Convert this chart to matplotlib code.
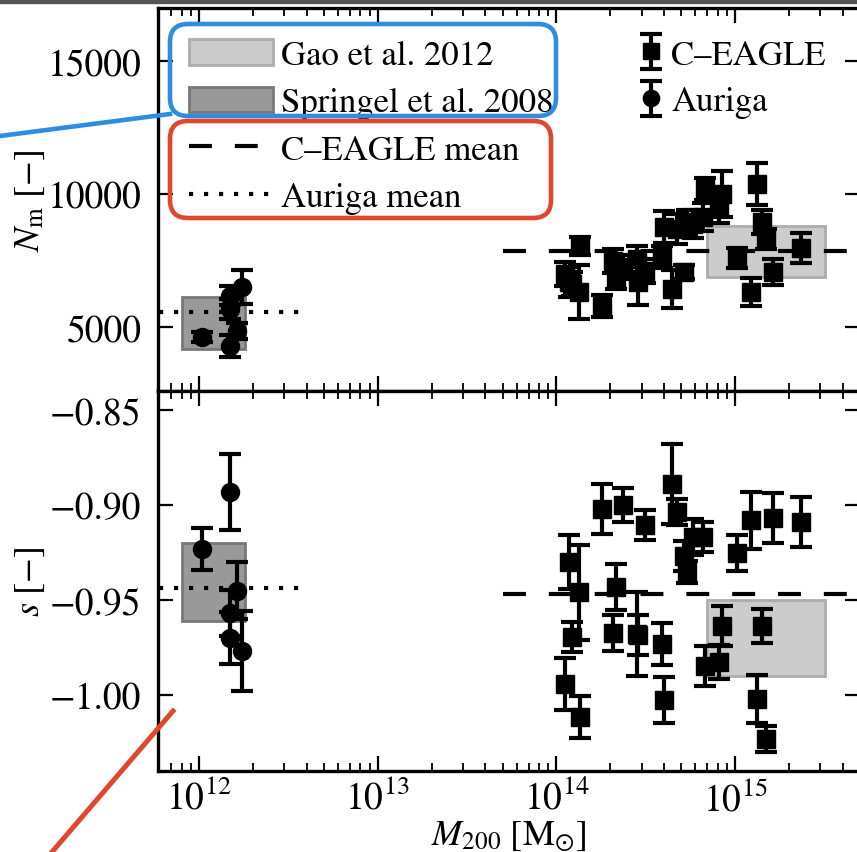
import numpy as np
import matplotlib
matplotlib.use("Agg")
import matplotlib.pyplot as plt
from matplotlib.patches import Rectangle, Patch, FancyBboxPatch
from matplotlib.lines import Line2D
from matplotlib.ticker import FixedLocator, FuncFormatter, NullFormatter, LogLocator

plt.rcParams['font.family'] = 'STIXGeneral'
plt.rcParams['mathtext.fontset'] = 'stix'
plt.rcParams['font.size'] = 26

# C-EAGLE clusters: halo mass, number of members, inner slope
ceagle_mass = [1.12e14, 1.18e14, 1.23e14, 1.34e14, 1.36e14, 1.80e14, 2.08e14, 2.16e14,
               2.37e14, 2.83e14, 2.85e14, 3.14e14, 3.91e14, 4.01e14, 4.45e14, 4.74e14,
               5.20e14, 5.40e14, 5.83e14, 6.64e14, 6.81e14, 8.16e14, 8.48e14, 1.02e15,
               1.23e15, 1.33e15, 1.42e15, 1.48e15, 1.64e15, 2.35e15]
ceagle_nm = [6998, 6698, 6622, 6322, 8051, 5795, 7487, 6810,
             7262, 7562, 6698, 7111, 7638, 8766, 6434, 8690,
             7074, 8954, 8878, 9142, 10194, 9518, 10006, 7600,
             6322, 10382, 8954, 8314, 7074, 7976]
ceagle_nm_err = [450, 560, 450, 1015, 340, 410, 450, 375,
                 450, 490, 865, 450, 410, 600, 715, 560,
                 265, 450, 530, 530, 415, 600, 865, 375,
                 530, 790, 450, 375, 490, 565]
ceagle_s = [-0.9942, -0.930, -0.9695, -0.9458, -1.0116, -0.9021, -0.9674, -0.9432,
            -0.9000, -0.9679, -0.9684, -0.9105, -0.9732, -1.0026, -0.8889, -0.9037,
            -0.9268, -0.9353, -0.9168, -0.9168, -0.9847, -0.9826, -0.9637, -0.9253,
            -0.9079, -1.0021, -0.9637, -1.0232, -0.9068, -0.9089]
ceagle_s_err = [0.0137, 0.014, 0.008, 0.025, 0.011, 0.013, 0.0095, 0.012,
                0.0092, 0.022, 0.0105, 0.008, 0.011, 0.012, 0.021, 0.007,
                0.008, 0.006, 0.0095, 0.008, 0.0105, 0.009, 0.0105, 0.0095,
                0.015, 0.0126, 0.009, 0.007, 0.013, 0.013]

# Auriga haloes
auriga_mass = [1.04e12, 1.74e12, 1.62e12, 1.49e12, 1.49e12, 1.49e12]
auriga_nm = [4618, 6498, 4867, 6182, 5682, 4302]
auriga_nm_err = [190, 640, 300, 350, 375, 410]
auriga_s = [-0.9232, -0.977, -0.9451, -0.8933, -0.9568, -0.9702]
auriga_s_err = [0.011, 0.021, 0.015, 0.020, 0.012, 0.0137]

# literature ranges
gao_mass = (7.0e14, 3.2e15)
gao_nm = (6900, 8800)
gao_s = (-0.99, -0.95)
springel_mass = (8.0e11, 1.8e12)
springel_nm = (4180, 6130)
springel_s = (-0.961, -0.92)

# sample means
ceagle_mean_nm = 7860
ceagle_mean_s = -0.947
ceagle_mean_span = (5e13, 5e15)
auriga_mean_nm = 5560
auriga_mean_s = -0.9437
auriga_mean_span = (6e11, 4e12)

nm_ticks = [5000, 10000, 15000]
s_ticks = [-1.00, -0.95, -0.90, -0.85]

W, H = 857, 853
fig = plt.figure(figsize=(W / 100, H / 100), dpi=100)


def fx(x):
    return x / W


def fy(y):
    return 1 - y / H


left, right = 158, 860
ax1 = fig.add_axes([fx(left), fy(392), fx(right - left), (392 - 9) / H])
ax2 = fig.add_axes([fx(left), fy(772), fx(right - left), (772 - 392) / H])

gao_kw = dict(facecolor='0.8', edgecolor='0.68', lw=2)
spr_kw = dict(facecolor='0.6', edgecolor='0.47', lw=2)
eb_kw = dict(color='k', elinewidth=3, capsize=8, capthick=3, ls='none')
dash = (0, (5.5, 5.5))
dot = (0, (1, 2.6))

eb_handles = []
for ax, cy, cyerr, ay, ayerr, g, sp, cm, am in [
        (ax1, ceagle_nm, ceagle_nm_err, auriga_nm, auriga_nm_err, gao_nm, springel_nm,
         ceagle_mean_nm, auriga_mean_nm),
        (ax2, ceagle_s, ceagle_s_err, auriga_s, auriga_s_err, gao_s, springel_s,
         ceagle_mean_s, auriga_mean_s)]:
    ax.add_patch(Rectangle((gao_mass[0], g[0]), gao_mass[1] - gao_mass[0], g[1] - g[0],
                           zorder=1, **gao_kw))
    ax.add_patch(Rectangle((springel_mass[0], sp[0]), springel_mass[1] - springel_mass[0],
                           sp[1] - sp[0], zorder=1, **spr_kw))
    ax.plot(ceagle_mean_span, [cm, cm], color='k', lw=3, ls=dash, zorder=2)
    ax.plot(auriga_mean_span, [am, am], color='k', lw=3, ls=dot, zorder=2)
    e1 = ax.errorbar(ceagle_mass, cy, yerr=cyerr, fmt='s', ms=13, zorder=3, **eb_kw)
    e2 = ax.errorbar(auriga_mass, ay, yerr=ayerr, fmt='o', ms=13, zorder=3, **eb_kw)
    eb_handles.append((e1, e2))

    ax.set_xscale('log')
    ax.set_xlim(5.89e11, 5.0e15)
    ax.xaxis.set_minor_locator(LogLocator(base=10, subs=np.arange(2, 10)))
    ax.tick_params(which='both', direction='in', top=True, right=True)
    ax.tick_params(which='major', length=11, width=1.6, labelsize=27)
    ax.tick_params(which='minor', length=5.5, width=1.3)
    ax.tick_params(axis='y', pad=12)
    ax.tick_params(axis='x', pad=6)
    for sp_ in ax.spines.values():
        sp_.set_linewidth(2.4)

ax1.set_ylim(2600, 17000)
ax1.yaxis.set_major_locator(FixedLocator(nm_ticks))
ax1.xaxis.set_major_formatter(NullFormatter())
ax1.set_ylabel(r'$N_{\rm m}\ [-]$', fontsize=26)
ax1.yaxis.set_label_coords(-0.158, 0.5)

ax2.set_ylim(-1.04, -0.84)
ax2.yaxis.set_major_locator(FixedLocator(s_ticks))
ax2.yaxis.set_major_formatter(FuncFormatter(lambda v, p: ('%.2f' % v).replace('-', '\u2212')))
ax2.set_ylabel(r'$s\ [-]$', fontsize=26)
ax2.yaxis.set_label_coords(-0.158, 0.5)
ax2.set_xlabel(r'$M_{200}\ [\mathrm{M}_{\odot}]$', fontsize=26)
ax2.xaxis.set_label_coords(0.5, -0.124)

# legends
lit_handles = [Patch(label='Gao et al. 2012', **gao_kw),
               Patch(label='Springel et al. 2008', **spr_kw),
               Line2D([], [], color='k', lw=3, ls=dash, label='C\u2013EAGLE mean'),
               Line2D([], [], color='k', lw=3, ls=dot, label='Auriga mean')]
leg1 = ax1.legend(handles=lit_handles, loc='upper left', frameon=False, fontsize=25,
                  handlelength=2.4, handleheight=0.75, handletextpad=0.25,
                  labelspacing=0.42)
ax1.add_artist(leg1)
ax1.legend(list(eb_handles[0]), ['C\u2013EAGLE', 'Auriga'], loc='upper right',
           bbox_to_anchor=(0.996, 1.0), frameon=False, fontsize=25, handlelength=0.45,
           handletextpad=0.35, labelspacing=0.42, markerscale=0.9)

# highlight boxes and pointer lines
blue = '#2d8ee0'
red = '#e0472c'
for (x0, y0, x1, y1), c in [((170, 25, 556, 117), blue), ((170, 122, 551, 219), red)]:
    fig.add_artist(FancyBboxPatch((fx(x0), fy(y1)), fx(x1 - x0), (y1 - y0) / H,
                                  boxstyle='round,pad=0,rounding_size=%f' % (18 / W),
                                  transform=fig.transFigure, fill=False, ec=c, lw=3.3,
                                  zorder=5))
fig.add_artist(Line2D([fx(0), fx(170)], [fy(137), fy(115)], transform=fig.transFigure,
                      color=blue, lw=3.3, zorder=5))
fig.add_artist(Line2D([fx(173), fx(52)], [fy(712), fy(853)], transform=fig.transFigure,
                      color=red, lw=3.6, zorder=5))
fig.add_artist(Rectangle((0, fy(4)), 1, 4 / H, transform=fig.transFigure,
                         color='#555555', zorder=6))

fig.savefig('out.png', dpi=100)
